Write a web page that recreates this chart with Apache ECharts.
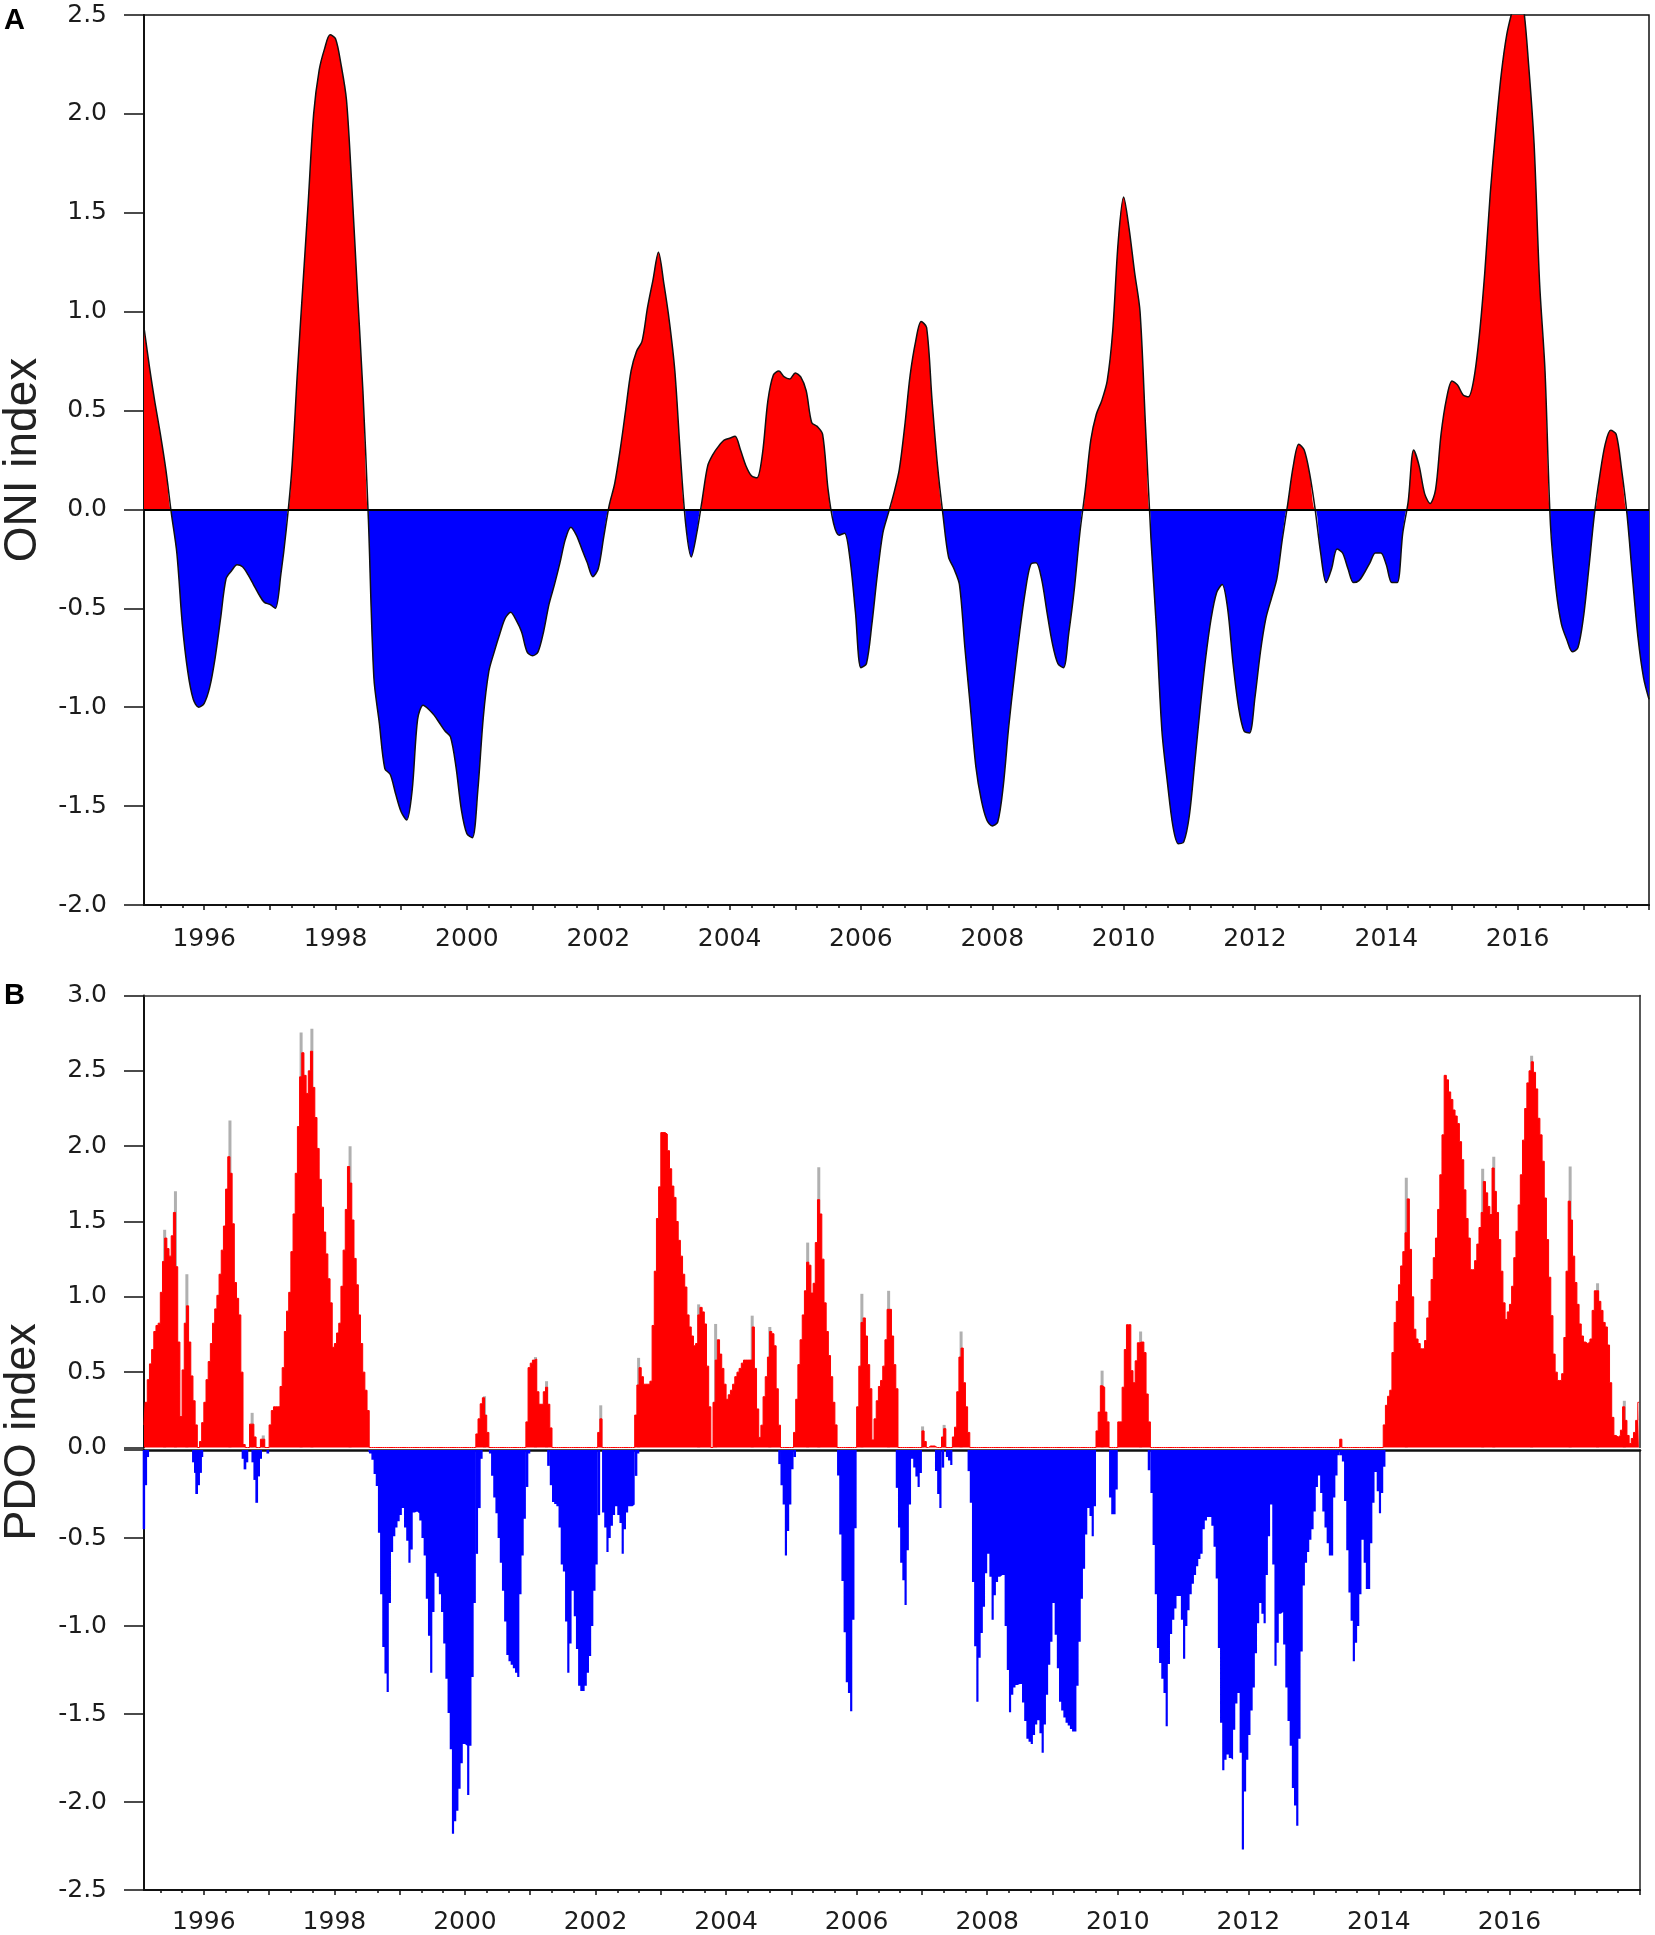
<!DOCTYPE html>
<html><head><meta charset="utf-8">
<style>html,body{margin:0;padding:0;background:#fff}#c{width:1655px;height:1935px}</style>
<script src="https://cdn.jsdelivr.net/npm/echarts@6/dist/echarts.min.js"></script>
</head><body><div id="c"></div>
<script>
// ---------- DATA ----------
const oniStart = 1995 + 1/12;   // monthly samples
const oniValues = [
 .92,.72,.54,.38,.2,-.02,-.22,-.58,-.82,-.96,-1.0,
 -.98,-.9,-.75,-.55,-.35,-.31,-.28,-.29,-.33,-.38,-.43,-.47,
 -.48,-.5,-.33,-.1,.2,.68,1.12,1.55,2.0,2.22,2.33,2.4,
 2.38,2.25,2.07,1.62,1.1,.6,-.05,-.85,-1.08,-1.31,-1.34,-1.44,
 -1.53,-1.57,-1.42,-1.06,-.99,-1.01,-1.04,-1.08,-1.12,-1.15,-1.3,-1.52,
 -1.64,-1.66,-1.42,-1.05,-.82,-.72,-.63,-.55,-.52,-.56,-.62,-.72,
 -.74,-.72,-.62,-.48,-.38,-.27,-.15,-.09,-.13,-.2,-.27,-.34,
 -.3,-.14,.02,.13,.3,.5,.7,.8,.85,1.02,1.16,1.3,
 1.14,.95,.7,.28,-.08,-.24,-.12,.05,.22,.28,.32,.35,
 .36,.37,.3,.22,.17,.16,.28,.55,.68,.7,.67,.66,
 .69,.67,.6,.44,.42,.38,.1,-.07,-.13,-.12,-.25,-.52,
 -.8,-.78,-.58,-.33,-.12,-.02,.08,.2,.42,.68,.85,.95,
 .92,.55,.22,-.03,-.24,-.3,-.38,-.7,-1.0,-1.3,-1.47,-1.57,
 -1.6,-1.58,-1.4,-1.1,-.85,-.62,-.42,-.28,-.27,-.35,-.52,-.68,
 -.78,-.8,-.62,-.4,-.12,.1,.35,.48,.55,.65,.9,1.35,
 1.58,1.42,1.2,1.0,.42,-.15,-.6,-1.12,-1.38,-1.6,-1.69,-1.68,
 -1.55,-1.28,-1.0,-.75,-.55,-.42,-.38,-.5,-.78,-1.0,-1.12,-1.13,
 -.95,-.72,-.55,-.45,-.35,-.15,.03,.22,.33,.3,.18,.0,
 -.22,-.37,-.3,-.2,-.22,-.3,-.37,-.36,-.32,-.27,-.22,-.22,
 -.28,-.37,-.37,-.12,.04,.3,.22,.08,.03,.1,.38,.56,
 .65,.63,.58,.57,.66,.88,1.2,1.6,1.92,2.2,2.4,2.52,
 2.62,2.55,2.25,1.85,1.15,.7,-.08,-.4,-.58,-.66,-.72,-.7,
 -.55,-.3,-.03,.17,.33,.4,.38,.2,-.03,-.35,-.65,-.85,
 -.96];
const pdoFirstYearCount = 28;   // 28 samples in 1995, then 30 per year
const pdoValues = [
 .15,.30,.45,.555,.65,.77,.81,.825,1.03,1.235,1.39,1.32,1.27,1.405,1.56,1.2,.7,.205,.515,.825,.94,.7,.475,.31,.15,0,.04,.165,
 .30,.45,.57,.69,.825,.92,1.01,1.15,1.31,1.47,1.715,1.93,1.82,1.485,1.095,.99,.88,.50,.02,0,0,.155,.155,.07,0,0,.055,.055,0,0,
 .15,.245,.27,.27,.27,.405,.53,.77,.905,1.03,1.30,1.55,1.82,2.13,2.46,2.62,2.47,2.35,2.50,2.63,2.39,2.19,1.985,1.78,1.595,1.43,1.285,1.12,.96,.665,
 .69,.76,.825,1.07,1.31,1.58,1.865,1.755,1.51,1.255,1.08,.88,.69,.50,.38,.245,-.02,-.055,-.136,-.205,-.47,-.82,-1.12,-1.27,-1.375,-.87,-.58,-.49,-.44,-.405,
 -.37,-.33,-.44,-.515,-.64,-.565,-.355,-.35,-.36,-.40,-.50,-.6,-.845,-1.055,-1.265,-.92,-.70,-.72,-.82,-.92,-1.10,-1.30,-1.495,-1.70,-2.18,-2.11,-2.05,-1.925,-1.78,-1.67,
 -1.68,-1.96,-1.68,-1.29,-.87,.09,.19,.29,.33,.215,.10,-.02,-.147,-.27,-.36,-.50,-.64,-.80,-.975,-1.165,-1.2,-1.22,-1.24,-1.265,-1.29,-.82,-.6,-.39,.17,.53,
 .56,.58,.587,.37,.287,.287,.37,.40,.287,.13,-.295,-.307,-.32,-.44,-.65,-.69,-.975,-1.265,-1.1,-.80,-.945,-1.13,-1.34,-1.37,-1.37,-1.34,-1.265,-1.17,-1.0,-.8,
 -.65,.10,.19,-.355,-.44,-.58,-.50,-.43,-.37,-.32,-.37,-.415,-.59,-.45,-.355,-.32,-.32,-.31,.215,.415,.53,.47,.42,.42,.42,.44,.81,1.17,1.52,1.73,
 2.09,2.09,2.08,1.97,1.85,1.735,1.66,1.50,1.375,1.27,1.15,1.065,.88,.80,.74,.675,.69,.88,.93,.90,.82,.54,.27,0,.30,.58,.715,.62,.525,.42,
 .32,.35,.38,.42,.47,.50,.525,.56,.58,.58,.58,.58,.80,.525,.256,.067,.148,.337,.47,.60,.77,.755,.675,.39,.148,-.2,-.31,-.6,-.46,-.31,
 -.11,.1,.32,.55,.715,.88,1.04,1.23,1.21,1.025,1.09,1.36,1.645,1.55,1.25,.96,.77,.61,.47,.30,.15,-.145,-.48,-.745,-1.035,-1.32,-1.38,-1.485,-.965,-.445,
 .27,.54,.83,.86,.74,.55,.39,.05,.19,.31,.405,.445,.54,.715,.917,.917,.74,.55,.39,-.44,-.64,-.74,-.88,-.57,-.31,-.05,-.10,-.15,-.21,-.13,
 .11,.04,0,.01,.01,.01,-.12,-.25,-.33,.07,.125,-.04,-.06,-.085,.07,.135,.37,.60,.66,.43,.27,.10,-.3,-.75,-1.115,-1.43,-1.18,-1.04,-.89,-.7,
 -.59,-.72,-.965,-.825,-.75,-.72,-.71,-.71,-1.0,-1.25,-1.49,-1.39,-1.35,-1.335,-1.33,-1.33,-1.435,-1.54,-1.64,-1.657,-1.67,-1.62,-1.56,-1.535,-1.61,-1.72,-1.56,-1.39,-1.22,-1.09,
 -.87,-1.05,-1.24,-1.43,-1.48,-1.52,-1.55,-1.565,-1.585,-1.60,-1.60,-1.34,-1.09,-.845,-.675,-.48,-.33,-.375,-.49,-.32,.11,.235,.41,.40,.235,.17,-.27,-.365,-.365,-.225,
 .17,.17,.40,.65,.815,.815,.51,.43,.575,.695,.70,.70,.63,.355,.17,-.245,-.54,-.82,-1.125,-1.21,-1.30,-1.38,-1.57,-1.216,-1.045,-.965,-.9,-.83,-.83,-.965,
 -1.186,-1.0,-.91,-.82,-.76,-.71,-.66,-.62,-.59,-.45,-.40,-.38,-.38,-.43,-.55,-.73,-1.125,-1.55,-1.82,-1.76,-1.73,-1.75,-1.76,-1.59,-1.44,-1.38,-1.72,-2.27,-1.94,-1.76,
 -1.62,-1.48,-1.35,-1.155,-.985,-.87,-.93,-.985,-.71,-.49,-.31,-.65,-1.226,-1.095,-.93,-.92,-1.105,-1.35,-1.54,-1.68,-1.92,-2.02,-2.135,-1.64,-1.145,-.77,-.64,-.58,-.51,-.45,
 -.35,-.21,-.145,-.245,-.35,-.44,-.53,-.60,-.60,-.27,-.145,-.03,.055,-.065,-.29,-.57,-.81,-.97,-1.2,-1.095,-1.0,-.82,-.51,-.64,-.79,-.79,-.53,-.30,-.125,-.235,
 -.36,-.245,.15,.28,.34,.38,.63,.83,.97,1.08,1.205,1.3,1.425,1.65,1.315,1.0,.785,.72,.69,.655,.655,.71,.86,.97,1.115,1.26,1.39,1.58,1.81,2.075,
 2.47,2.44,2.36,2.31,2.24,2.2,2.15,2.03,1.91,1.71,1.52,1.39,1.18,1.18,1.24,1.35,1.46,1.56,1.765,1.69,1.60,1.546,1.855,1.70,1.56,1.38,1.17,.96,.85,.90,
 .95,1.07,1.26,1.435,1.61,1.81,2.04,2.25,2.42,2.50,2.56,2.49,2.38,2.185,2.075,1.90,1.656,1.38,1.13,.875,.62,.50,.445,.445,.49,.73,1.17,1.635,1.51,1.27,
 1.095,.95,.82,.74,.70,.69,.70,.72,.91,1.04,1.04,.97,.91,.83,.80,.68,.43,.20,.08,.07,.08,.115,.27,.18,.08,.026,.06,.10,.18,.30];
// negative readings that share a sample with a positive reading
const pdoBlueOverlap = [[1995.08,-.45],[1995.11,-.2],[1995.14,-.04],[1995.84,-.07],[1995.87,-.13],[1995.89,-.25],[1995.92,-.2],[1995.95,-.13],[1995.97,-.04],
 [1996.60,-.05],[1996.63,-.11],[1996.66,-.07],[1996.75,-.07],[1996.78,-.17],[1996.81,-.3],[1996.84,-.15],[1996.87,-.05],[1996.98,-.02],
 [2000.18,-.59],[2000.22,-.33],[2000.25,-.05],[2000.95,-.21],[2000.98,-.02],[2001.28,-.09],[2001.32,-.2],[2002.05,-.37],[2002.62,-.147],[2002.65,-.02],
 [2004.82,-.08],[2005.05,-.04],[2006.62,-.215],[2007.32,-.10],[2007.72,-.12],[2010.48,-.115],[2013.42,-.03],[2014.08,-.095]];
// grey tips above the red peaks
const pdoGreyTips = [[1995.40,1.445],[1995.565,1.70],[1995.74,1.15],[1996.40,2.17],[1996.74,.23],[1996.91,.08],[1997.49,2.755],[1997.655,2.78],[1998.24,2.0],
 [2000.3,.34],[2001.08,.6],[2001.25,.44],[2002.08,.28],[2002.66,.595],[2003.58,.95],[2003.84,.82],[2004.4,.875],[2004.67,.80],[2005.25,1.36],[2005.42,1.86],
 [2006.08,1.02],[2006.49,1.04],[2007.01,.14],[2007.34,.15],[2007.6,.77],[2009.76,.51],[2010.35,.77],[2014.42,1.79],[2015.59,1.85],[2015.76,1.93],[2016.34,2.6],
 [2016.93,1.865],[2017.35,1.09],[2017.76,.31]];
const yearLabels = [1996,1998,2000,2002,2004,2006,2008,2010,2012,2014,2016];
const yearTicks = [1996,1997,1998,1999,2000,2001,2002,2003,2004,2005,2006,2007,2008,2009,2010,2011,2012,2013,2014,2015,2016,2017,2018];
const xMin = 1995 + 1/12, xMax = 2018;

// ---------- DERIVED ----------
const minorTicks = [1995.3333,1995.6667];
yearTicks.slice(0,-1).forEach(y => minorTicks.push(y+1/3, y+2/3));
const oniPts = oniValues.map((v,i) => [oniStart + i/12, v]);
function signedPart(pts, sign){
  const out=[];
  pts.forEach((p,i)=>{
    if(i){const q=pts[i-1];
      if(q[1]*p[1]<0){out.push([q[0]+(p[0]-q[0])*q[1]/(q[1]-p[1]),0]);}}
    out.push([p[0], sign>0?Math.max(p[1],0):Math.min(p[1],0)]);
  });
  return out;
}
const pdoPts = pdoValues.map((v,i) => [1996 + (i-pdoFirstYearCount+.5)/30, v]);
const pdoRed = pdoPts.map(p=>[p[0],Math.max(p[1],0)]);
const pdoBlue = pdoPts.map(p=>[p[0],Math.min(p[1],0)]);

// ---------- OPTION ----------
const LABEL = {fontFamily:'"DejaVu Sans"',fontSize:25,color:'#1c1c1c'};
const LINE = {color:'#111',width:2};
const grids = [
 {left:144,width:1505,top:15,height:890,show:true,borderColor:'#111',borderWidth:1.5,backgroundColor:'#fff'},
 {left:144,width:1496,top:995.5,height:452},
 {left:144,width:1496,top:1450,height:441}
];
function xAxis(gridIndex,opt){return Object.assign({type:'value',gridIndex,min:xMin,max:xMax,scale:true,splitLine:{show:false},
  axisLine:{show:false,onZero:false},axisTick:{show:false},axisLabel:{show:false}},opt);}
function majorX(g,margin){return xAxis(g,{position:'bottom',
  axisLine:{show:true,onZero:false,lineStyle:LINE},
  axisTick:{show:true,length:5,customValues:yearTicks,lineStyle:{color:'#111',width:1.5}},
  axisLabel:Object.assign({show:true,margin,customValues:yearLabels,formatter:v=>String(v),hideOverlap:false},LABEL)});}
function minorX(g){return xAxis(g,{position:'bottom',
  axisTick:{show:true,length:3,customValues:minorTicks,lineStyle:{color:'#111',width:1.5}}});}
function yAxis(gridIndex,min,max,opt){return Object.assign({type:'value',gridIndex,min,max,interval:.5,position:'left',splitLine:{show:false},
  axisLine:{show:true,onZero:false,lineStyle:LINE},
  axisTick:{show:true,length:20,lineStyle:{color:'#111',width:1.5}},
  axisLabel:Object.assign({margin:37,formatter:v=>v.toFixed(1)},LABEL)},opt);}
function frameY(g,min,max){return {type:'value',gridIndex:g,min,max,interval:.5,position:'right',splitLine:{show:false},
  axisLine:{show:true,onZero:false,lineStyle:{color:'#222',width:1.5}},axisTick:{show:false},axisLabel:{show:false}};}
const stepBase = {type:'line',step:'middle',showSymbol:false,silent:true,animation:false};
const smoothBase = {type:'line',xAxisIndex:0,yAxisIndex:0,showSymbol:false,silent:true,smooth:.3};

const option = {
 animation:false,backgroundColor:'#fff',
 grid:grids,
 xAxis:[
  majorX(0,22), minorX(0),
  xAxis(1,{position:'top',axisLine:{show:true,onZero:false,lineStyle:{color:'#333',width:1.5}}}),
  xAxis(2,{position:'top',axisLine:{show:true,onZero:false,lineStyle:{color:'#111',width:2.5}}}),
  majorX(2,20), minorX(2)
 ],
 yAxis:[
  yAxis(0,-2,2.5),
  yAxis(1,0,3),
  frameY(1,0,3),
  yAxis(2,-2.5,0,{axisLabel:Object.assign({margin:37,formatter:v=>v===0?'':v.toFixed(1)},LABEL)}),
  frameY(2,-2.5,0)
 ],
 series:[
  Object.assign({},smoothBase,{data:signedPart(oniPts,1),lineStyle:{width:0},areaStyle:{color:'#ff0000',opacity:1}}),
  Object.assign({},smoothBase,{data:signedPart(oniPts,-1),lineStyle:{width:0},areaStyle:{color:'#0000ff',opacity:1}}),
  Object.assign({},smoothBase,{data:oniPts,lineStyle:{color:'#111',width:1.5},
   markLine:{silent:true,animation:false,symbol:'none',label:{show:false},lineStyle:{color:'#000',width:2,type:'solid'},data:[{yAxis:0}]}}),
  {type:'bar',barWidth:3,barGap:'-100%',silent:true,xAxisIndex:2,yAxisIndex:1,data:pdoGreyTips,itemStyle:{color:'#b0b0b0'},z:1},
  Object.assign({},stepBase,{xAxisIndex:2,yAxisIndex:1,data:pdoRed,lineStyle:{color:'#ff0000',width:1},areaStyle:{color:'#ff0000',opacity:1},z:3}),
  {type:'bar',barWidth:2.7,silent:true,xAxisIndex:3,yAxisIndex:3,data:pdoBlueOverlap,itemStyle:{color:'#0000ff'},z:2},
  Object.assign({},stepBase,{xAxisIndex:3,yAxisIndex:3,data:pdoBlue,lineStyle:{width:0},areaStyle:{color:'#0000ff',opacity:1},z:3})
 ],
 graphic:[
  {type:'text',left:4,top:6,style:{text:'A',font:'bold 29px "Liberation Sans"',fill:'#000'}},
  {type:'text',left:4,top:981,style:{text:'B',font:'bold 29px "Liberation Sans"',fill:'#000'}},
  {type:'text',x:23,y:460,rotation:Math.PI/2,style:{text:'ONI index',font:'46px "Liberation Sans"',fill:'#222',align:'center',verticalAlign:'middle'}},
  {type:'text',x:23,y:1432,rotation:Math.PI/2,style:{text:'PDO index',font:'45px "Liberation Sans"',fill:'#222',align:'center',verticalAlign:'middle'}}
 ]
};
const chart = echarts.init(document.getElementById('c'),null,{renderer:'canvas',width:1655,height:1935});
chart.setOption(option);
</script></body></html>
